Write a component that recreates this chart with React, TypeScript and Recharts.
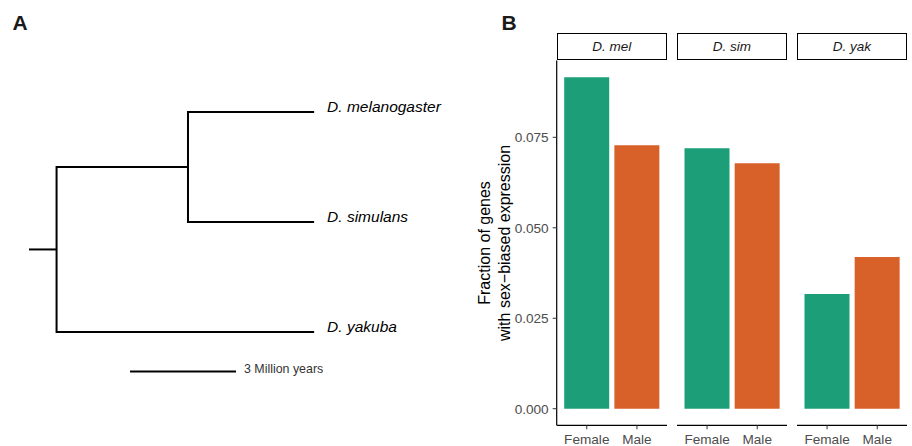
import React from 'react';
import {
  BarChart,
  Bar,
  Cell,
  ComposedChart,
  Line,
  Scatter,
  XAxis,
  YAxis
} from 'recharts';

// panel B: sex-biased expression per species
const speciesShort = ['D. mel', 'D. sim', 'D. yak'];
const sexes = ['Female', 'Male'];
const femaleFraction = [0.0916, 0.072, 0.0317];
const maleFraction = [0.0728, 0.0678, 0.0419];
const yTicks = [0, 0.025, 0.05, 0.075];
const yTitleLines = ['Fraction of genes', 'with sex\u2212biased expression'];

// panel A: tree, branch lengths in million years
const tipNames = ['D. melanogaster', 'D. simulans', 'D. yakuba'];
const tipRows = [3, 2, 1];
const rootStub = 0.78;
const rootToMelSim = 3.72;
const melSimToTip = 3.57;
const rootToYak = 7.29;
const scaleBarMy = 3;
const scaleBarStart = 2.86;
const scaleBarRow = 0.64;
const scaleLabel = '3 Million years';

const sexColors = ['#1C9F78', '#D8612A'];
const font = '"Liberation Sans", Arial, Helvetica, sans-serif';

const rootX = rootStub;
const melSimX = rootX + rootToMelSim;
const tipX = melSimX + melSimToTip;
const melSimY = (tipRows[0] + tipRows[1]) / 2;
const rootY = (melSimY + tipRows[2]) / 2;

const treePaths = [
  [{ x: 0, y: rootY }, { x: rootX, y: rootY }],
  [
    { x: melSimX, y: melSimY },
    { x: rootX, y: melSimY },
    { x: rootX, y: tipRows[2] },
    { x: rootX + rootToYak, y: tipRows[2] }
  ],
  [
    { x: tipX, y: tipRows[0] },
    { x: melSimX, y: tipRows[0] },
    { x: melSimX, y: tipRows[1] },
    { x: tipX, y: tipRows[1] }
  ],
  [
    { x: scaleBarStart, y: scaleBarRow },
    { x: scaleBarStart + scaleBarMy, y: scaleBarRow }
  ]
];

const tips = tipNames.map((name, i) => ({ x: tipX, y: tipRows[i], name }));
const scaleLabelPoint = [{ x: scaleBarStart + scaleBarMy, y: scaleBarRow, name: scaleLabel }];

const TipLabel = (props: any) => {
  const { cx, cy, payload } = props;
  return (
    <text x={cx + 13} y={cy} fontSize={15.5} fontStyle="italic" fill="#000">
      {payload.name}
    </text>
  );
};

const ScaleText = (props: any) => {
  const { cx, cy, payload } = props;
  return (
    <text x={cx + 8} y={cy + 1.5} fontSize={12.4} fill="#333">
      {payload.name}
    </text>
  );
};

function TreePanel() {
  return (
    <ComposedChart width={460} height={446} margin={{ top: 0, right: 0, bottom: 0, left: 0 }}>
      <XAxis type="number" dataKey="x" hide domain={[-0.821, 12.199]} allowDataOverflow />
      <YAxis type="number" dataKey="y" hide domain={[-0.037, 4.018]} allowDataOverflow />
      {treePaths.map((path, i) => (
        <Line
          key={i}
          data={path}
          dataKey="y"
          type="linear"
          stroke="#000"
          strokeWidth={2}
          dot={false}
          activeDot={false}
          isAnimationActive={false}
        />
      ))}
      <Scatter data={tips} shape={TipLabel} isAnimationActive={false} />
      <Scatter data={scaleLabelPoint} shape={ScaleText} isAnimationActive={false} />
    </ComposedChart>
  );
}

const YTitle = (props: any) => {
  const vb = props.viewBox || {};
  const cy = vb.height ? vb.y + vb.height / 2 : 243;
  return (
    <g>
      {yTitleLines.map((t, i) => {
        const x = 30 + 20 * i;
        return (
          <text
            key={i}
            x={x}
            y={cy}
            transform={`rotate(-90, ${x}, ${cy})`}
            textAnchor="middle"
            fontSize={16}
            fill="#000"
          >
            {t}
          </text>
        );
      })}
    </g>
  );
};

const panelLeft = 556.7;
const panelStep = 120;
const panelWidth = 110.3;
const yAxisWidth = 96.7;

function FacetPanel({ index }: { index: number }) {
  const data = sexes.map((sex, j) => ({
    sex,
    value: j === 0 ? femaleFraction[index] : maleFraction[index]
  }));
  const withAxis = index === 0;
  const width = panelWidth + (withAxis ? yAxisWidth : 0);
  const left = panelLeft + panelStep * index - (withAxis ? yAxisWidth : 0);
  return (
    <div style={{ position: 'absolute', left, top: 0, width, height: 446 }}>
      <BarChart
        width={width}
        height={446}
        data={data}
        barCategoryGap="5%"
        margin={{ top: 60.6, right: 0, bottom: 0, left: 0 }}
      >
        <XAxis
          dataKey="sex"
          interval={0}
          height={20.7}
          padding={{ left: 5, right: 5 }}
          axisLine={{ stroke: '#000', strokeWidth: 1.2 }}
          tickLine={{ stroke: '#333', strokeWidth: 1 }}
          tickSize={4}
          tickMargin={5}
          tick={{ fill: '#4D4D4D', fontSize: 13.6 }}
        />
        <YAxis
          type="number"
          hide={!withAxis}
          width={yAxisWidth}
          domain={[-0.00458, 0.0962]}
          allowDataOverflow
          ticks={yTicks}
          tickFormatter={(v: number) => v.toFixed(3)}
          axisLine={{ stroke: '#000', strokeWidth: 1.2 }}
          tickLine={{ stroke: '#333', strokeWidth: 1 }}
          tickSize={4}
          tickMargin={4}
          tick={{ fill: '#4D4D4D', fontSize: 13.6 }}
          label={{ content: YTitle }}
        />
        <Bar dataKey="value" isAnimationActive={false}>
          {data.map((d, j) => (
            <Cell key={d.sex} fill={sexColors[j]} />
          ))}
        </Bar>
      </BarChart>
      <div
        style={{
          position: 'absolute',
          left: withAxis ? yAxisWidth : 0,
          top: 33.3,
          width: panelWidth,
          height: 27,
          boxSizing: 'border-box',
          border: '1.7px solid #000',
          display: 'flex',
          alignItems: 'center',
          justifyContent: 'center',
          fontStyle: 'italic',
          fontSize: 13.5,
          color: '#1a1a1a'
        }}
      >
        {speciesShort[index]}
      </div>
    </div>
  );
}

export default function App() {
  return (
    <div
      style={{
        position: 'absolute',
        left: 0,
        top: 0,
        width: 912,
        height: 446,
        background: '#fff',
        fontFamily: font
      }}
    >
      <div style={{ position: 'absolute', left: 0, top: 0 }}>
        <TreePanel />
      </div>
      {speciesShort.map((s, i) => (
        <FacetPanel key={s} index={i} />
      ))}
      <svg
        width={912}
        height={446}
        style={{ position: 'absolute', left: 0, top: 0, pointerEvents: 'none' }}
      >
        <text x={12.5} y={30} fontSize={21} fontWeight="bold" fill="#1a1a1a">
          A
        </text>
        <text x={501.5} y={30} fontSize={21} fontWeight="bold" fill="#1a1a1a">
          B
        </text>
      </svg>
    </div>
  );
}
